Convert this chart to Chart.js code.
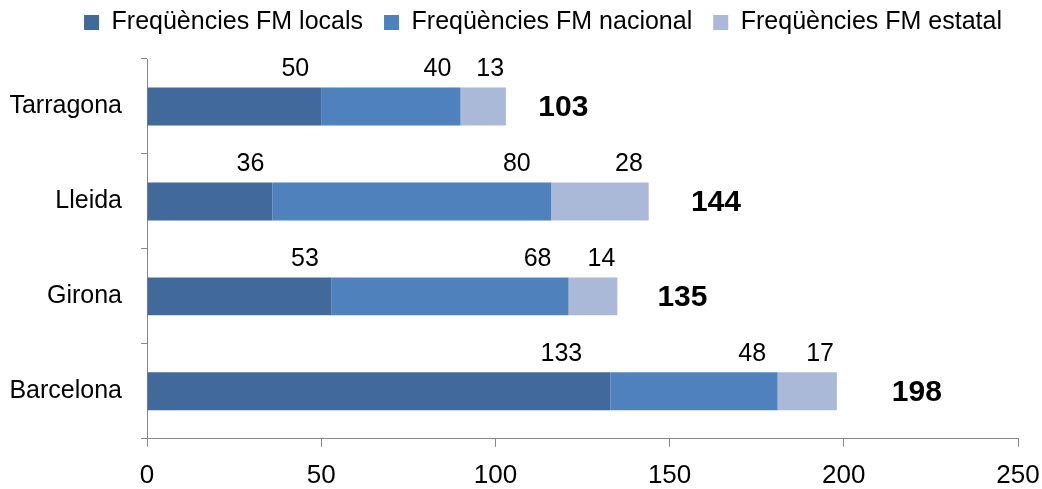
<!DOCTYPE html>
<html>
<head>
<meta charset="utf-8">
<script src="https://cdn.jsdelivr.net/npm/chart.js@4/dist/chart.umd.min.js"></script>
<style>
html,body{margin:0;padding:0;background:#fff;}
#wrap{width:1042px;height:489px;}
</style>
</head>
<body>
<div id="wrap"><canvas id="c" width="1042" height="489"></canvas></div>
<script>
const categories = ['Tarragona', 'Lleida', 'Girona', 'Barcelona'];
const locals = [50, 36, 53, 133];
const nacional = [40, 80, 68, 48];
const estatal = [13, 28, 14, 17];
const totals = [103, 144, 135, 198];
const seriesNames = ['Freqüències FM locals', 'Freqüències FM nacional', 'Freqüències FM estatal'];
const xTicks = [0, 50, 100, 150, 200, 250];

const FONT = "'Liberation Sans', Arial, sans-serif";
const AXIS = '#868686';

const labelPlugin = {
  id: 'segLabels',
  afterDatasetsDraw(chart) {
    const ctx = chart.ctx;
    const xs = chart.scales.x;
    ctx.save();
    ctx.fillStyle = '#000';
    ctx.textAlign = 'center';
    ctx.textBaseline = 'middle';
    chart.data.datasets.forEach((ds, i) => {
      const meta = chart.getDatasetMeta(i);
      meta.data.forEach((el, j) => {
        const w = el.x - el.base;
        ctx.font = "25px " + FONT;
        ctx.fillText(String(ds.data[j]), el.x - (12 + 0.08 * w), el.y - el.height / 2 - 18);
        if (i === chart.data.datasets.length - 1) {
          ctx.font = "bold 30px " + FONT;
          ctx.fillText(String(totals[j]), xs.getPixelForValue(totals[j] * 1.068 + 9.5), el.y + 1);
        }
      });
    });
    ctx.restore();
  }
};

const legendShift = {
  id: 'legendShift',
  afterLayout(chart) {
    const l = chart.legend;
    l.left += 22; l.right += 22;
    l.top -= 14; l.bottom -= 14;
  }
};

new Chart(document.getElementById('c'), {
  type: 'bar',
  data: {
    labels: categories,
    datasets: [
      { label: seriesNames[0], data: locals, backgroundColor: '#41699B' },
      { label: seriesNames[1], data: nacional, backgroundColor: '#4F81BD' },
      { label: seriesNames[2], data: estatal, backgroundColor: '#AAB9D7' }
    ]
  },
  options: {
    indexAxis: 'y',
    responsive: false,
    animation: false,
    devicePixelRatio: 1,
    layout: { padding: { left: 0, right: 0, top: 3, bottom: -10 } },
    datasets: { bar: { categoryPercentage: 0.8, barPercentage: 0.5 } },
    plugins: {
      legend: {
        position: 'top',
        labels: {
          boxWidth: 15, boxHeight: 15, padding: 21,
          color: '#000',
          font: { family: FONT, size: 25 }
        }
      },
      tooltip: { enabled: false }
    },
    scales: {
      x: {
        stacked: true,
        min: 0, max: 250,
        afterBuildTicks(axis) { axis.ticks = xTicks.map(v => ({ value: v })); },
        afterFit(axis) { axis.paddingRight = 24; axis.height -= 5; },
        grid: { drawOnChartArea: false, drawTicks: true, tickLength: 8, color: AXIS },
        border: { color: AXIS, width: 1 },
        ticks: { color: '#000', padding: 13, font: { family: FONT, size: 26 } }
      },
      y: {
        stacked: true,
        afterFit(axis) { axis.width = 147; },
        grid: { drawOnChartArea: false, drawTicks: true, tickLength: 6, color: AXIS, offset: true },
        border: { color: AXIS, width: 1 },
        ticks: { color: '#000', padding: 19, font: { family: FONT, size: 25 } }
      }
    }
  },
  plugins: [labelPlugin, legendShift]
});
</script>
</body>
</html>
